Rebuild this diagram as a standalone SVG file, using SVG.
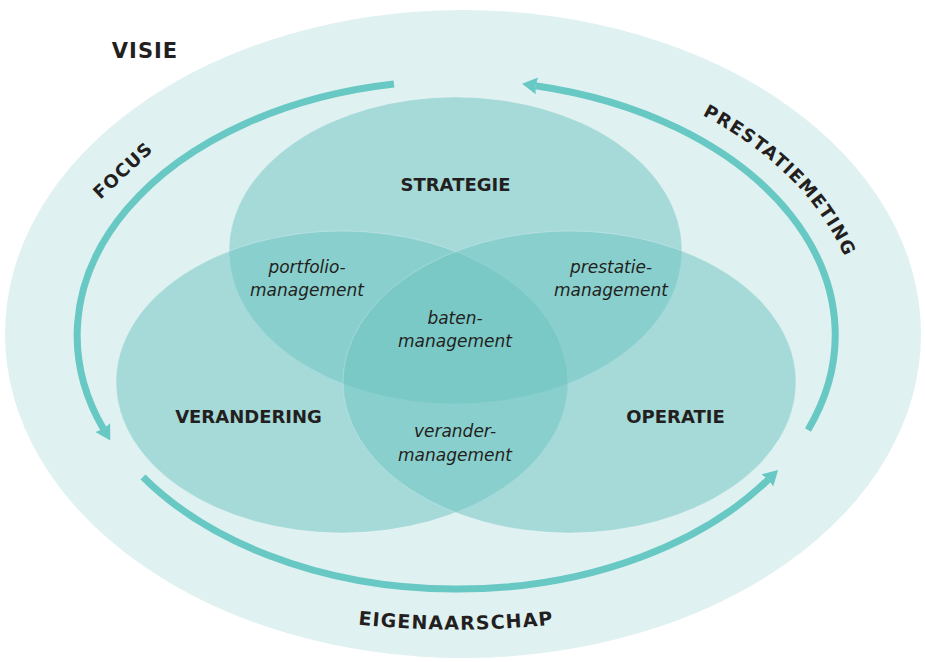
<svg xmlns="http://www.w3.org/2000/svg" width="925" height="662" viewBox="0 0 925 662">
  <style>
    .cap { font-family: "DejaVu Sans", "Liberation Sans", sans-serif; font-weight: bold; fill: #231f20; }
    .sub { font-family: "DejaVu Sans", "Liberation Sans", sans-serif; font-style: italic; font-size: 17px; fill: #231f20; text-anchor: middle; }
    .venn { fill: #6cc4c2; fill-opacity: 0.5; stroke: #ffffff; stroke-opacity: 0.25; stroke-width: 1; }
    .flow { fill: none; stroke: #68c8c4; stroke-width: 7; marker-end: url(#head); }
  </style>
  <defs>
    <marker id="head" markerUnits="userSpaceOnUse" markerWidth="20" markerHeight="20" viewBox="-1 -10 18 20" refX="1.5" refY="0" orient="auto">
      <path d="M0,-8.5 L15,0 L0,8.5 L1.5,0 Z" fill="#68c8c4"/>
    </marker>
    <!-- baselines for the curved labels -->
    <path id="pPrestatie" d="M 658.5 95.1 A 405 277 0 0 1 854.8 286.9"/>
    <path id="pEigen" d="M 330 621 A 520 290 0 0 0 582 621"/>
  </defs>

  <rect width="925" height="662" fill="#ffffff"/>

  <!-- outer field -->
  <g id="visie">
    <ellipse cx="463" cy="334" rx="458" ry="324" fill="#e0f1f1"/>
    <text class="cap" x="145" y="58" font-size="21" letter-spacing="1" text-anchor="middle">VISIE</text>
  </g>

  <!-- three overlapping domains -->
  <g id="strategie">
    <ellipse class="venn" cx="455.5" cy="250.5" rx="226.5" ry="153.5"/>
    <text class="cap" x="455.5" y="191" font-size="18" text-anchor="middle">STRATEGIE</text>
  </g>
  <g id="verandering">
    <ellipse class="venn" cx="342" cy="382" rx="226" ry="151"/>
    <text class="cap" x="248.5" y="423" font-size="18" text-anchor="middle">VERANDERING</text>
  </g>
  <g id="operatie">
    <ellipse class="venn" cx="569.5" cy="382" rx="226.5" ry="151"/>
    <text class="cap" x="675.5" y="423" font-size="18" text-anchor="middle">OPERATIE</text>
  </g>

  <!-- overlap labels -->
  <g id="portfoliomanagement">
    <text class="sub" x="307" y="273">portfolio-</text>
    <text class="sub" x="307" y="296">management</text>
  </g>
  <g id="prestatiemanagement">
    <text class="sub" x="611" y="273">prestatie-</text>
    <text class="sub" x="611" y="296">management</text>
  </g>
  <g id="batenmanagement">
    <text class="sub" x="455" y="324">baten-</text>
    <text class="sub" x="455" y="347">management</text>
  </g>
  <g id="verandermanagement">
    <text class="sub" x="455" y="437">verander-</text>
    <text class="sub" x="455" y="461">management</text>
  </g>

  <!-- cycle arrows with their labels -->
  <g id="connectors">
    <path class="flow" d="M 394 84 A 379 255 0 0 0 103.5 428.9"/>
    <path class="flow" d="M 143 477 A 379 255 0 0 0 768.4 479.4"/>
    <path class="flow" d="M 808 430 A 379 255 0 0 0 535.4 85.7"/>

    <text class="cap" font-size="18" letter-spacing="1" text-anchor="middle" transform="translate(127,175) rotate(-43)">FOCUS</text>
    <text class="cap" font-size="18" letter-spacing="1.3">
      <textPath href="#pPrestatie" startOffset="53%" text-anchor="middle">PRESTATIEMETING</textPath>
    </text>
    <text class="cap" font-size="19" letter-spacing="1.2">
      <textPath href="#pEigen" startOffset="50%" text-anchor="middle">EIGENAARSCHAP</textPath>
    </text>
  </g>
</svg>
